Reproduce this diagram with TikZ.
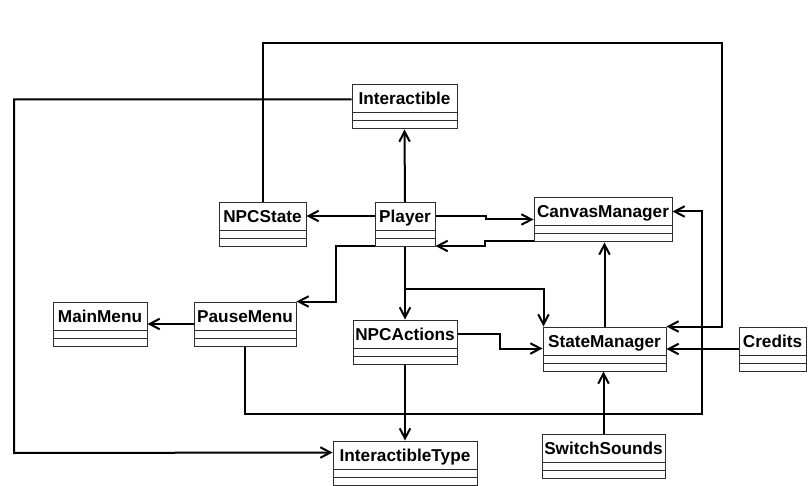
\documentclass[tikz,border=0pt]{standalone}
\usepackage{fontspec}
\setmainfont{Liberation Sans}
\usetikzlibrary{arrows.meta,calc,positioning}
\definecolor{umlgray}{RGB}{45,45,45}

\begin{document}
\begin{tikzpicture}[x=1pt,y=-1pt,font=\fontsize{17.2}{20}\selectfont\bfseries,
    umlclass/.style={draw=umlgray,line width=1pt,inner xsep=0pt,inner ysep=0pt,
      text height=20pt,text depth=24pt,minimum width=#1,
      path picture={\draw[umlgray,line width=1pt]
        ([yshift=16pt]path picture bounding box.south west) -- ([yshift=16pt]path picture bounding box.south east)
        ([yshift=8pt]path picture bounding box.south west) -- ([yshift=8pt]path picture bounding box.south east);}},
    assoc/.style={line width=2pt,-{Straight Barb[length=10pt,width=10.5pt]}}]
    \useasboundingbox (0,0) rectangle (808,486);
    \node[umlclass=105pt] (interactible) at (404.5,107) {Interactible};
    \node[umlclass=87pt] (npcstate) at (262.5,224.5) {NPCState};
    \node[umlclass=60pt] (player) at (405,224.5) {Player};
    \node[umlclass=138pt] (canvasmgr) at (603,220) {CanvasManager};
    \node[umlclass=123pt] (statemgr) at (604.5,349) {StateManager};
    \node[umlclass=104pt] (npcactions) at (405,342) {NPCActions};
    \node[umlclass=94pt] (mainmenu) at (100,324) {MainMenu};
    \node[umlclass=102pt] (pausemenu) at (245,324) {PauseMenu};
    \node[umlclass=144pt] (itype) at (405,463) {InteractibleType};
    \node[umlclass=67pt] (credits) at (772.5,349) {Credits};
    \node[umlclass=123pt] (switchsounds) at (603.5,456.5) {SwitchSounds};
    \coordinate (leftrail) at (14,453);
    \coordinate (toprail) at (722,43);
    \coordinate (lowrail) at (702,414);
    \draw[assoc] (player.north) -- (interactible.south);
    \draw[assoc] ($(player.north west)+(0,14)$) -- ($(npcstate.north east)+(0,14)$);
    \draw[assoc] ($(player.north east)+(0,14)$) -- ++(50,0) |- ($(canvasmgr.north west)+(0,22)$);
    \draw[assoc] ($(canvasmgr.south west)+(0,-1)$) -- ++(-49,0) |- ($(player.south east)+(0,-1)$);
    \draw[assoc] (player.south) -- (npcactions.north);
    \draw[assoc] (player.south) -- ++(0,42) -| ($(statemgr.north west)+(1,0)$);
    \draw[assoc] ($(player.south west)+(0,-1)$) -- ++(-39,0) |- (pausemenu.north east);
    \draw[assoc] (pausemenu.west) -- (mainmenu.east);
    \draw[assoc] ($(npcactions.north east)+(0,14)$) -- ++(42,0) |- ($(statemgr.north west)+(0,22)$);
    \draw[assoc] (npcactions.south) -- (itype.north);
    \draw[assoc] ($(interactible.north west)+(0,15)$) -| (leftrail) -- ($(itype.north west)+(0,12)$);
    \draw[assoc] (npcstate.north) |- (toprail) |- (statemgr.north east);
    \draw[assoc] (pausemenu.south) |- (lowrail) |- ($(canvasmgr.north east)+(0,14)$);
    \draw[assoc] (credits.west) -- (credits.west -| statemgr.east);
    \draw[assoc] (switchsounds.north) -- (switchsounds.north |- statemgr.south);
    \draw[assoc] (statemgr.north) -- (statemgr.north |- canvasmgr.south);
  \end{tikzpicture}
\end{document}
